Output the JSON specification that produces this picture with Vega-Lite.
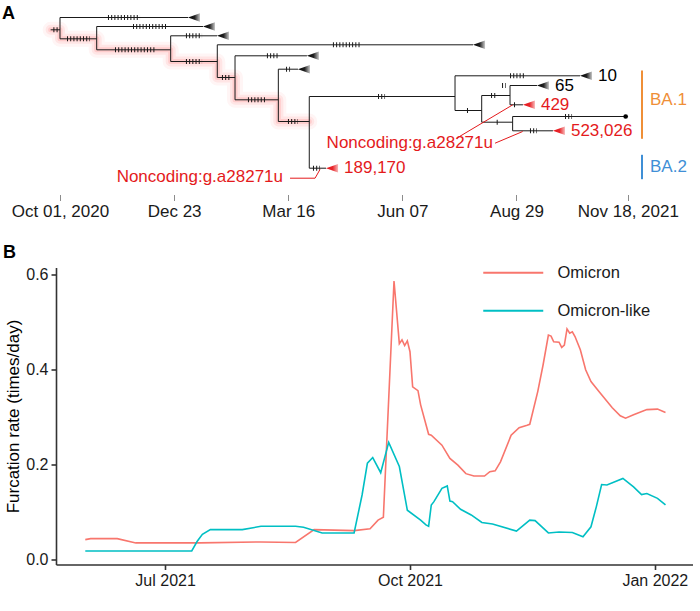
{
  "$schema": "https://vega.github.io/schema/vega-lite/v6.json",
  "padding": {"left": 2, "top": 4.5, "right": 0, "bottom": 0},
  "bounds": "flush",
  "spacing": 73,
  "config": {"view": {"stroke": null}, "font": "Liberation Sans", "title": {"font": "Liberation Sans"}},
  "resolve": {"scale": {"color": "independent"}, "legend": {"color": "independent"}},
  "datasets": {
    "edges": [
      {"t": -6.8, "t2": 0, "y": 18.3, "y2": 18.3},
      {"t": 0, "t2": 93.1, "y": 6, "y2": 6},
      {"t": 0, "t2": 26.7, "y": 27.3, "y2": 27.3},
      {"t": 26.7, "t2": 104, "y": 15, "y2": 15},
      {"t": 26.7, "t2": 80.5, "y": 38.3, "y2": 38.3},
      {"t": 80.5, "t2": 114.2, "y": 24.3, "y2": 24.3},
      {"t": 80.5, "t2": 114.4, "y": 50, "y2": 50},
      {"t": 114.4, "t2": 300.4, "y": 33.3, "y2": 33.3},
      {"t": 114.4, "t2": 127.3, "y": 66, "y2": 66},
      {"t": 127.3, "t2": 179.6, "y": 44.3, "y2": 44.3},
      {"t": 127.3, "t2": 158.8, "y": 88.3, "y2": 88.3},
      {"t": 158.8, "t2": 173.1, "y": 57.7, "y2": 57.7},
      {"t": 158.8, "t2": 181.3, "y": 110, "y2": 110},
      {"t": 181.3, "t2": 287.3, "y": 85, "y2": 85},
      {"t": 181.3, "t2": 193.5, "y": 156.7, "y2": 156.7},
      {"t": 287.3, "t2": 378.2, "y": 64.3, "y2": 64.3},
      {"t": 287.3, "t2": 306.7, "y": 99, "y2": 99},
      {"t": 306.7, "t2": 327.3, "y": 84, "y2": 84},
      {"t": 327.3, "t2": 346.9, "y": 74, "y2": 74},
      {"t": 327.3, "t2": 336.7, "y": 93.3, "y2": 93.3},
      {"t": 306.7, "t2": 329.2, "y": 110.7, "y2": 110.7},
      {"t": 329.2, "t2": 411.4, "y": 105, "y2": 105},
      {"t": 329.2, "t2": 358.5, "y": 119.3, "y2": 119.3},
      {"t": 0, "t2": 0, "y": 6, "y2": 27.3},
      {"t": 26.7, "t2": 26.7, "y": 15, "y2": 38.3},
      {"t": 80.5, "t2": 80.5, "y": 24.3, "y2": 50},
      {"t": 114.4, "t2": 114.4, "y": 33.3, "y2": 66},
      {"t": 127.3, "t2": 127.3, "y": 44.3, "y2": 88.3},
      {"t": 158.8, "t2": 158.8, "y": 57.7, "y2": 110},
      {"t": 181.3, "t2": 181.3, "y": 85, "y2": 156.7},
      {"t": 287.3, "t2": 287.3, "y": 64.3, "y2": 99},
      {"t": 306.7, "t2": 306.7, "y": 84, "y2": 110.7},
      {"t": 327.3, "t2": 327.3, "y": 74, "y2": 93.3},
      {"t": 329.2, "t2": 329.2, "y": 105, "y2": 119.3}
    ],
    "lineage": [
      {"i": 0, "t": -6.8, "y": 18.3}, {"i": 1, "t": 0, "y": 18.3}, {"i": 2, "t": 0, "y": 27.3},
      {"i": 3, "t": 26.7, "y": 27.3}, {"i": 4, "t": 26.7, "y": 38.3}, {"i": 5, "t": 80.5, "y": 38.3},
      {"i": 6, "t": 80.5, "y": 50}, {"i": 7, "t": 114.4, "y": 50}, {"i": 8, "t": 114.4, "y": 66},
      {"i": 9, "t": 127.3, "y": 66}, {"i": 10, "t": 127.3, "y": 88.3}, {"i": 11, "t": 158.8, "y": 88.3},
      {"i": 12, "t": 158.8, "y": 110}, {"i": 13, "t": 181.3, "y": 110}
    ],
    "mutations": [
      {"t": -4.8, "t2": -1.2, "y": 18.3},
      {"t": 34.9, "t2": 58.2, "y": 6},
      {"t": 5.1, "t2": 21.8, "y": 27.3},
      {"t": 53.1, "t2": 77.8, "y": 15},
      {"t": 40, "t2": 69.1, "y": 38.3},
      {"t": 91.6, "t2": 103.3, "y": 24.3},
      {"t": 91.6, "t2": 103.3, "y": 50},
      {"t": 198.5, "t2": 218.2, "y": 33.3},
      {"t": 117.8, "t2": 123.6, "y": 66},
      {"t": 150.5, "t2": 158.5, "y": 44.3},
      {"t": 136.7, "t2": 150.5, "y": 88.3},
      {"t": 164.4, "t2": 167.3, "y": 57.7},
      {"t": 165.8, "t2": 173.1, "y": 110},
      {"t": 231.3, "t2": 236.4, "y": 85},
      {"t": 184, "t2": 189.1, "y": 156.7},
      {"t": 327.3, "t2": 338.2, "y": 64.3},
      {"t": 296, "t2": 296.8, "y": 99},
      {"t": 313.5, "t2": 316.8, "y": 84},
      {"t": 321.5, "t2": 324.3, "y": 74},
      {"t": 330.2, "t2": 331, "y": 93.3},
      {"t": 317.6, "t2": 318.4, "y": 110.7},
      {"t": 367.3, "t2": 372.4, "y": 105},
      {"t": 341.8, "t2": 346.9, "y": 119.3}
    ],
    "tips": [
      {"t": 93.1, "y": 6, "label": "", "hit": "no"},
      {"t": 104, "y": 15, "label": "", "hit": "no"},
      {"t": 114.2, "y": 24.3, "label": "", "hit": "no"},
      {"t": 300.4, "y": 33.3, "label": "", "hit": "no"},
      {"t": 179.6, "y": 44.3, "label": "", "hit": "no"},
      {"t": 173.1, "y": 57.7, "label": "", "hit": "no"},
      {"t": 378.2, "y": 64.3, "label": "10", "hit": "no"},
      {"t": 346.9, "y": 74, "label": "65", "hit": "no"},
      {"t": 336.7, "y": 93.3, "label": "429", "hit": "yes"},
      {"t": 358.5, "y": 119.3, "label": "523,026", "hit": "yes"},
      {"t": 193.5, "y": 156.7, "label": "189,170", "hit": "yes"}
    ],
    "leaves": [{"t": 411.4, "y": 105}],
    "notes": [
      {"t": 288.5, "y": 126.7, "t2": 329.3, "y2": 93.3},
      {"t": 316.4, "y": 131.7, "t2": 336.5, "y2": 120},
      {"t": 167.3, "y": 166.7, "t2": 185.5, "y2": 166.7},
      {"t": 185.5, "y": 166.7, "t2": 189.1, "y2": 158}
    ],
    "noteText": [
      {"t": 314.9, "y": 131.7, "text": "Noncoding:g.a28271u"},
      {"t": 162.2, "y": 165.7, "text": "Noncoding:g.a28271u"}
    ],
    "clades": [
      {"clade": "BA.1", "t": 423.3, "y": 59, "y2": 127.3, "ylab": 88},
      {"clade": "BA.2", "t": 423.3, "y": 143.3, "y2": 167.7, "ylab": 155}
    ],
    "rates": [
      {"date": "2021-06-01", "series": "Omicron", "rate": 0.042},
      {"date": "2021-06-03", "series": "Omicron", "rate": 0.044},
      {"date": "2021-06-13", "series": "Omicron", "rate": 0.044},
      {"date": "2021-06-20", "series": "Omicron", "rate": 0.035},
      {"date": "2021-07-14", "series": "Omicron", "rate": 0.035},
      {"date": "2021-08-06", "series": "Omicron", "rate": 0.037},
      {"date": "2021-08-19", "series": "Omicron", "rate": 0.036},
      {"date": "2021-08-26", "series": "Omicron", "rate": 0.063},
      {"date": "2021-09-10", "series": "Omicron", "rate": 0.061},
      {"date": "2021-09-16", "series": "Omicron", "rate": 0.065},
      {"date": "2021-09-19", "series": "Omicron", "rate": 0.083},
      {"date": "2021-09-21", "series": "Omicron", "rate": 0.089},
      {"date": "2021-09-25", "series": "Omicron", "rate": 0.587},
      {"date": "2021-09-27", "series": "Omicron", "rate": 0.455},
      {"date": "2021-09-28", "series": "Omicron", "rate": 0.463},
      {"date": "2021-09-29", "series": "Omicron", "rate": 0.451},
      {"date": "2021-09-30", "series": "Omicron", "rate": 0.461},
      {"date": "2021-10-01", "series": "Omicron", "rate": 0.438},
      {"date": "2021-10-02", "series": "Omicron", "rate": 0.364},
      {"date": "2021-10-04", "series": "Omicron", "rate": 0.356},
      {"date": "2021-10-05", "series": "Omicron", "rate": 0.326},
      {"date": "2021-10-08", "series": "Omicron", "rate": 0.264},
      {"date": "2021-10-09", "series": "Omicron", "rate": 0.262},
      {"date": "2021-10-13", "series": "Omicron", "rate": 0.241},
      {"date": "2021-10-16", "series": "Omicron", "rate": 0.213},
      {"date": "2021-10-19", "series": "Omicron", "rate": 0.199},
      {"date": "2021-10-22", "series": "Omicron", "rate": 0.181},
      {"date": "2021-10-25", "series": "Omicron", "rate": 0.176},
      {"date": "2021-10-29", "series": "Omicron", "rate": 0.176},
      {"date": "2021-10-31", "series": "Omicron", "rate": 0.185},
      {"date": "2021-11-02", "series": "Omicron", "rate": 0.187},
      {"date": "2021-11-04", "series": "Omicron", "rate": 0.206},
      {"date": "2021-11-08", "series": "Omicron", "rate": 0.262},
      {"date": "2021-11-11", "series": "Omicron", "rate": 0.278},
      {"date": "2021-11-14", "series": "Omicron", "rate": 0.283},
      {"date": "2021-11-15", "series": "Omicron", "rate": 0.285},
      {"date": "2021-11-18", "series": "Omicron", "rate": 0.354},
      {"date": "2021-11-20", "series": "Omicron", "rate": 0.410},
      {"date": "2021-11-22", "series": "Omicron", "rate": 0.473},
      {"date": "2021-11-23", "series": "Omicron", "rate": 0.471},
      {"date": "2021-11-24", "series": "Omicron", "rate": 0.459},
      {"date": "2021-11-26", "series": "Omicron", "rate": 0.458},
      {"date": "2021-11-27", "series": "Omicron", "rate": 0.447},
      {"date": "2021-11-28", "series": "Omicron", "rate": 0.452},
      {"date": "2021-11-29", "series": "Omicron", "rate": 0.486},
      {"date": "2021-11-30", "series": "Omicron", "rate": 0.477},
      {"date": "2021-12-01", "series": "Omicron", "rate": 0.480},
      {"date": "2021-12-02", "series": "Omicron", "rate": 0.470},
      {"date": "2021-12-04", "series": "Omicron", "rate": 0.442},
      {"date": "2021-12-06", "series": "Omicron", "rate": 0.400},
      {"date": "2021-12-08", "series": "Omicron", "rate": 0.375},
      {"date": "2021-12-11", "series": "Omicron", "rate": 0.354},
      {"date": "2021-12-16", "series": "Omicron", "rate": 0.320},
      {"date": "2021-12-19", "series": "Omicron", "rate": 0.303},
      {"date": "2021-12-21", "series": "Omicron", "rate": 0.298},
      {"date": "2021-12-24", "series": "Omicron", "rate": 0.305},
      {"date": "2021-12-29", "series": "Omicron", "rate": 0.316},
      {"date": "2022-01-02", "series": "Omicron", "rate": 0.317},
      {"date": "2022-01-05", "series": "Omicron", "rate": 0.310},
      {"date": "2021-06-01", "series": "Omicron-like", "rate": 0.018},
      {"date": "2021-07-11", "series": "Omicron-like", "rate": 0.018},
      {"date": "2021-07-13", "series": "Omicron-like", "rate": 0.038},
      {"date": "2021-07-15", "series": "Omicron-like", "rate": 0.053},
      {"date": "2021-07-18", "series": "Omicron-like", "rate": 0.063},
      {"date": "2021-07-30", "series": "Omicron-like", "rate": 0.063},
      {"date": "2021-08-06", "series": "Omicron-like", "rate": 0.070},
      {"date": "2021-08-19", "series": "Omicron-like", "rate": 0.070},
      {"date": "2021-08-22", "series": "Omicron-like", "rate": 0.068},
      {"date": "2021-08-29", "series": "Omicron-like", "rate": 0.056},
      {"date": "2021-09-10", "series": "Omicron-like", "rate": 0.056},
      {"date": "2021-09-13", "series": "Omicron-like", "rate": 0.136},
      {"date": "2021-09-15", "series": "Omicron-like", "rate": 0.203},
      {"date": "2021-09-17", "series": "Omicron-like", "rate": 0.215},
      {"date": "2021-09-20", "series": "Omicron-like", "rate": 0.183},
      {"date": "2021-09-23", "series": "Omicron-like", "rate": 0.247},
      {"date": "2021-09-27", "series": "Omicron-like", "rate": 0.196},
      {"date": "2021-09-30", "series": "Omicron-like", "rate": 0.104},
      {"date": "2021-10-05", "series": "Omicron-like", "rate": 0.083},
      {"date": "2021-10-07", "series": "Omicron-like", "rate": 0.073},
      {"date": "2021-10-08", "series": "Omicron-like", "rate": 0.070},
      {"date": "2021-10-09", "series": "Omicron-like", "rate": 0.115},
      {"date": "2021-10-10", "series": "Omicron-like", "rate": 0.122},
      {"date": "2021-10-13", "series": "Omicron-like", "rate": 0.150},
      {"date": "2021-10-15", "series": "Omicron-like", "rate": 0.155},
      {"date": "2021-10-16", "series": "Omicron-like", "rate": 0.123},
      {"date": "2021-10-17", "series": "Omicron-like", "rate": 0.122},
      {"date": "2021-10-20", "series": "Omicron-like", "rate": 0.106},
      {"date": "2021-10-24", "series": "Omicron-like", "rate": 0.094},
      {"date": "2021-10-28", "series": "Omicron-like", "rate": 0.078},
      {"date": "2021-11-01", "series": "Omicron-like", "rate": 0.075},
      {"date": "2021-11-10", "series": "Omicron-like", "rate": 0.060},
      {"date": "2021-11-15", "series": "Omicron-like", "rate": 0.083},
      {"date": "2021-11-17", "series": "Omicron-like", "rate": 0.082},
      {"date": "2021-11-22", "series": "Omicron-like", "rate": 0.056},
      {"date": "2021-11-26", "series": "Omicron-like", "rate": 0.058},
      {"date": "2021-12-01", "series": "Omicron-like", "rate": 0.057},
      {"date": "2021-12-05", "series": "Omicron-like", "rate": 0.048},
      {"date": "2021-12-08", "series": "Omicron-like", "rate": 0.069},
      {"date": "2021-12-10", "series": "Omicron-like", "rate": 0.111},
      {"date": "2021-12-12", "series": "Omicron-like", "rate": 0.158},
      {"date": "2021-12-14", "series": "Omicron-like", "rate": 0.157},
      {"date": "2021-12-20", "series": "Omicron-like", "rate": 0.171},
      {"date": "2021-12-24", "series": "Omicron-like", "rate": 0.153},
      {"date": "2021-12-27", "series": "Omicron-like", "rate": 0.137},
      {"date": "2021-12-29", "series": "Omicron-like", "rate": 0.139},
      {"date": "2022-01-02", "series": "Omicron-like", "rate": 0.129},
      {"date": "2022-01-05", "series": "Omicron-like", "rate": 0.115}
    ]
  },
  "vconcat": [
    {
      "width": 572,
      "height": 183,
      "title": {"text": "A", "anchor": "start", "frame": "group", "dx": -54, "offset": -14.5, "fontSize": 18, "fontWeight": "bold", "color": "#000"},
      "encoding": {
        "x": {
          "field": "t", "type": "quantitative",
          "scale": {"domain": [-2.9, 413.1], "nice": false, "zero": false},
          "axis": {
            "values": [0, 83, 166, 249, 332, 413],
            "labelExpr": "datum.value == 0 ? 'Oct 01, 2020' : datum.value == 83 ? 'Dec 23' : datum.value == 166 ? 'Mar 16' : datum.value == 249 ? 'Jun 07' : datum.value == 332 ? 'Aug 29' : 'Nov 18, 2021'",
            "domain": false, "grid": false, "title": null,
            "tickSize": 6, "tickColor": "#8c8c8c", "tickWidth": 1,
            "labelFontSize": 17, "labelColor": "#1a1a1a", "labelPadding": 3,
            "labelFlush": false, "labelOverlap": false
          }
        },
        "y": {"field": "y", "type": "quantitative", "scale": {"domain": [0, 183], "reverse": true, "nice": false, "zero": false}, "axis": null}
      },
      "layer": [
        {
          "data": {"values": [{}]},
          "mark": {"type": "rule", "color": "#8c8c8c", "strokeWidth": 1},
          "encoding": {"x": {"datum": 0}, "x2": {"datum": 413}, "y": {"datum": 183}}
        },
        {
          "data": {"name": "lineage"},
          "mark": {"type": "line", "color": "#ff2020", "strokeWidth": 16, "opacity": 0.045, "strokeJoin": "round", "strokeCap": "round"},
          "encoding": {"order": {"field": "i", "type": "quantitative"}}
        },
        {
          "data": {"name": "lineage"},
          "mark": {"type": "line", "color": "#ff2020", "strokeWidth": 10, "opacity": 0.07, "strokeJoin": "round", "strokeCap": "round"},
          "encoding": {"order": {"field": "i", "type": "quantitative"}}
        },
        {
          "data": {"name": "lineage"},
          "mark": {"type": "line", "color": "#ff2020", "strokeWidth": 5, "opacity": 0.12, "strokeJoin": "round", "strokeCap": "round"},
          "encoding": {"order": {"field": "i", "type": "quantitative"}}
        },
        {
          "data": {"name": "edges"},
          "mark": {"type": "rule", "color": "#1a1a1a", "strokeWidth": 1},
          "encoding": {"x2": {"field": "t2"}, "y2": {"field": "y2"}}
        },
        {
          "data": {"name": "mutations"},
          "mark": {"type": "rule", "color": "#1a1a1a", "strokeWidth": 5, "strokeDash": [1, 2.2], "strokeCap": "butt"},
          "encoding": {"x2": {"field": "t2"}}
        },
        {
          "data": {"name": "tips"},
          "transform": [{"filter": "datum.hit == 'no'"}],
          "mark": {
            "type": "point", "shape": "M -1 0 L 1 -0.7 L 1 0.7 Z", "size": 144, "xOffset": 6, "filled": true, "opacity": 1, "strokeWidth": 0,
            "fill": {"gradient": "linear", "x1": 0, "y1": 0, "x2": 1, "y2": 0, "stops": [{"offset": 0, "color": "#000000"}, {"offset": 0.55, "color": "#222222"}, {"offset": 1, "color": "#c8c8c8"}]}
          }
        },
        {
          "data": {"name": "tips"},
          "transform": [{"filter": "datum.hit == 'yes'"}],
          "mark": {
            "type": "point", "shape": "M -1 0 L 1 -0.7 L 1 0.7 Z", "size": 144, "xOffset": 6, "filled": true, "opacity": 1, "strokeWidth": 0,
            "fill": {"gradient": "linear", "x1": 0, "y1": 0, "x2": 1, "y2": 0, "stops": [{"offset": 0, "color": "#e4161b"}, {"offset": 0.55, "color": "#e8262b"}, {"offset": 1, "color": "#f7b8b8"}]}
          }
        },
        {
          "data": {"name": "leaves"},
          "mark": {"type": "point", "shape": "circle", "size": 22, "filled": true, "color": "#000", "opacity": 1}
        },
        {
          "data": {"name": "tips"},
          "mark": {"type": "text", "align": "left", "baseline": "middle", "dx": 18, "fontSize": 17},
          "encoding": {
            "text": {"field": "label"},
            "color": {"condition": {"test": "datum.hit == 'yes'", "value": "#e41a1c"}, "value": "#000000"}
          }
        },
        {
          "data": {"name": "notes"},
          "mark": {"type": "rule", "color": "#e41a1c", "strokeWidth": 1},
          "encoding": {"x2": {"field": "t2"}, "y2": {"field": "y2"}}
        },
        {
          "data": {"name": "noteText"},
          "mark": {"type": "text", "align": "right", "baseline": "middle", "fontSize": 17, "color": "#e41a1c"},
          "encoding": {"text": {"field": "text"}}
        },
        {
          "data": {"name": "clades"},
          "mark": {"type": "rule", "strokeWidth": 2},
          "encoding": {
            "y2": {"field": "y2"},
            "color": {"field": "clade", "type": "nominal", "scale": {"domain": ["BA.1", "BA.2"], "range": ["#ef8f37", "#3f8fd6"]}, "legend": null}
          }
        },
        {
          "data": {"name": "clades"},
          "mark": {"type": "text", "align": "left", "baseline": "middle", "dx": 8, "fontSize": 17},
          "encoding": {
            "y": {"field": "ylab", "type": "quantitative"},
            "text": {"field": "clade"},
            "color": {"field": "clade", "type": "nominal", "scale": {"domain": ["BA.1", "BA.2"], "range": ["#ef8f37", "#3f8fd6"]}, "legend": null}
          }
        }
      ]
    },
    {
      "width": 637,
      "height": 297,
      "title": {"text": "B", "anchor": "start", "frame": "group", "dx": -53, "offset": 3, "fontSize": 18, "fontWeight": "bold", "color": "#000"},
      "data": {"name": "rates"},
      "mark": {"type": "line", "strokeWidth": 1.6},
      "encoding": {
        "x": {
          "field": "date", "type": "temporal",
          "scale": {"type": "utc", "domain": [{"year": 2021, "month": 5, "date": 21, "utc": true}, {"year": 2022, "month": 1, "date": 15, "hours": 8, "utc": true}], "nice": false},
          "axis": {
            "values": [{"year": 2021, "month": 7, "date": 1, "utc": true}, {"year": 2021, "month": 10, "date": 1, "utc": true}, {"year": 2022, "month": 1, "date": 1, "utc": true}],
            "format": "%b %Y", "title": null, "grid": false,
            "domainColor": "#333333", "domainWidth": 1.6, "tickColor": "#333333", "tickWidth": 1.6, "tickSize": 5,
            "labelFontSize": 16, "labelColor": "#1a1a1a", "labelPadding": 3, "labelFlush": false
          }
        },
        "y": {
          "field": "rate", "type": "quantitative",
          "scale": {"domain": [-0.0105, 0.6155], "nice": false, "zero": false},
          "axis": {
            "values": [0, 0.2, 0.4, 0.6], "format": ".1f", "title": "Furcation rate (times/day)", "grid": false,
            "domainColor": "#333333", "domainWidth": 1.6, "tickColor": "#333333", "tickWidth": 1.6, "tickSize": 5,
            "labelFontSize": 16, "labelColor": "#1a1a1a", "labelPadding": 3,
            "titleFontSize": 17, "titleFontWeight": "normal", "titleColor": "#000000", "titlePadding": 3
          }
        },
        "color": {
          "field": "series", "type": "nominal",
          "scale": {"domain": ["Omicron", "Omicron-like"], "range": ["#F8766D", "#00BFC4"]},
          "legend": {
            "title": null, "orient": "none", "legendX": 449, "legendY": -3, "padding": 0,
            "symbolType": "M -10 0 L 10 0", "symbolSize": 36, "symbolStrokeWidth": 2,
            "labelFontSize": 16.5, "labelColor": "#1a1a1a", "labelOffset": 36, "rowPadding": 21
          }
        }
      }
    }
  ]
}
